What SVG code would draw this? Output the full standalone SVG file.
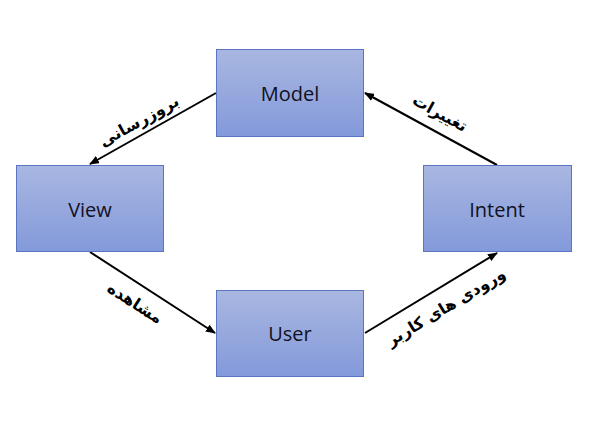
<svg xmlns="http://www.w3.org/2000/svg" width="592" height="423" viewBox="0 0 592 423">
<defs>
<linearGradient id="g" x1="0" y1="0" x2="0" y2="1">
<stop offset="0" stop-color="#A9B7E1"/>
<stop offset="1" stop-color="#8399DA"/>
</linearGradient>
<marker id="ah" markerWidth="10" markerHeight="8" refX="9" refY="4" orient="auto" markerUnits="userSpaceOnUse">
<path d="M0,0 L10,4 L0,8 Z" fill="#000"/>
</marker>
</defs>
<style>
.box{fill:url(#g);stroke:#5A76C2;stroke-width:1}
.lbl{font-family:"Open Sans","Noto Sans","Liberation Sans",sans-serif;font-size:20px;fill:#111122;text-anchor:middle;dominant-baseline:central}
.fa{font-family:"DejaVu Sans","Noto Sans",sans-serif;font-size:16px;font-weight:bold;fill:#000;text-anchor:middle;dominant-baseline:central}
.con{stroke:#000;stroke-width:2;fill:none;marker-end:url(#ah)}
</style>
<rect width="592" height="423" fill="#fff"/>
<g id="connectors">
<line class="con" x1="216" y1="93" x2="90" y2="164"/>
<line class="con" x1="497" y1="165" x2="365" y2="93"/>
<line class="con" x1="90" y1="252" x2="215" y2="333"/>
<line class="con" x1="365" y1="333" x2="497" y2="253"/>
<text class="fa" transform="translate(139,121) rotate(-29)" direction="rtl">بروزرسانی</text>
<text class="fa" transform="translate(440,113) rotate(29)" direction="rtl">تغییرات</text>
<text class="fa" transform="translate(135,303) rotate(33)" direction="rtl">مشاهده</text>
<text class="fa" transform="translate(446,307) rotate(-31)" direction="rtl">ورودی های کاربر</text>
</g>
<g id="model">
<rect class="box" x="216.5" y="49.5" width="147" height="87"/>
<text class="lbl" x="290" y="93">Model</text>
</g>
<g id="view">
<rect class="box" x="16.5" y="165.5" width="147" height="86"/>
<text class="lbl" x="90" y="209">View</text>
</g>
<g id="intent">
<rect class="box" x="423.5" y="165.5" width="148" height="86"/>
<text class="lbl" x="497" y="209">Intent</text>
</g>
<g id="user">
<rect class="box" x="216.5" y="290.5" width="147" height="86"/>
<text class="lbl" x="290" y="333">User</text>
</g>
</svg>
